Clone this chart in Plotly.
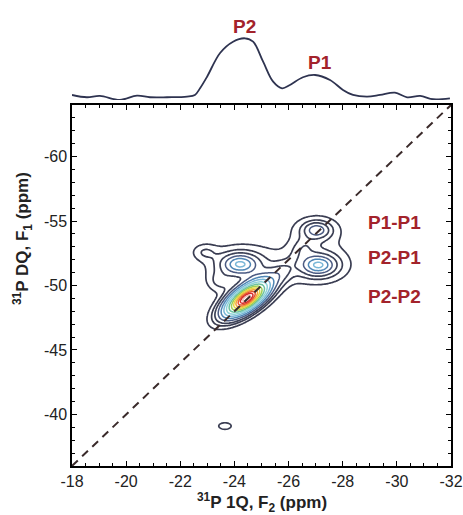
import numpy as np
import plotly.graph_objects as go

# ---------------- data ----------------
# 1D projection (F2 ppm, intensity in arbitrary units)
proj_f2 = [-18.0, -18.55, -19.03, -19.77, -20.40, -20.88, -21.51, -22.25, -22.54, -22.73,
           -22.99, -23.47, -23.95, -24.39, -24.69, -25.06, -25.43, -25.76, -26.05, -26.53,
           -26.98, -27.53, -28.01, -28.38, -28.90, -29.38, -29.93, -30.38, -30.86, -31.34, -31.96]
proj_int = [2, -0.3, 1, -3, 1.3, -0.3, -0.3, 0.3, 2, 8.7,
            20.3, 44, 55.3, 58.7, 55.3, 35.3, 15.3, 8.7, 12, 19.7,
            22, 17, 7, 2, 0.3, 2, 4.3, -0.3, 1, -2.3, -1.3]

# 2D peaks: F2 (ppm), F1 (ppm), widths (ppm), correlation, relative amplitude, tail weight
peak_names = ["P2-P2", "P2-P1", "P1-P2", "P1-P1", "bridge1", "bridge2", "tail", "bridge3", "lone"]
peak_f2  = [-24.45, -24.21, -27.10, -27.04, -25.75, -26.55, -22.90, -23.45, -23.65]
peak_f1  = [-49.00, -51.65, -51.59, -54.30, -51.00, -52.90, -52.60, -50.30, -39.10]
peak_sx  = [0.55, 0.68, 0.64, 0.55, 0.32, 0.30, 0.32, 0.32, 0.27]
peak_sy  = [0.91, 0.82, 0.80, 0.72, 0.60, 0.55, 0.45, 0.55, 0.30]
peak_rho = [0.67, 0.0, 0.0, 0.0, 0.3, 0.2, 0.0, 0.0, 0.0]
peak_amp = [1.00, 0.30, 0.30, 0.19, 0.05, 0.05, 0.05, 0.05, 0.05]
peak_lor = [0.25, 1.0, 1.0, 1.0, 0.0, 0.0, 0.0, 0.0, 0.0]

contour_levels = [0.035, 0.065, 0.10, 0.15, 0.21, 0.28, 0.36, 0.45, 0.54, 0.63, 0.72, 0.81, 0.89, 0.96]
contour_colors = ["#3a3d52", "#3a3d52", "#3d4258", "#4a5a82", "#4f86b5", "#7ab8d8", "#8fd3d8",
                  "#6cc2a0", "#9dcf55", "#e8d640", "#f3a33a", "#e8552f", "#d62b2b", "#f2b8b0"]

diag_f2 = [-18, -32]
diag_f1 = [-36, -64]

tick_x = [-18, -20, -22, -24, -26, -28, -30, -32]
tick_y = [-40, -45, -50, -55, -60]

# ---------------- build intensity grid ----------------
xs = np.linspace(-18, -32, 281)
ys = np.linspace(-36, -64, 281)
X, Y = np.meshgrid(xs, ys)
Z = np.zeros_like(X)
for cx, cy, sx, sy, r, a, lw in zip(peak_f2, peak_f1, peak_sx, peak_sy, peak_rho, peak_amp, peak_lor):
    dx = (X - cx) / sx
    dy = (Y - cy) / sy
    q = (dx * dx - 2 * r * dx * dy + dy * dy) / (1 - r * r)
    Z += a * ((1 - lw) * np.exp(-0.5 * q) + lw / (1 + q) ** 1.5)

fig = go.Figure()

for i, (lv, col) in enumerate(zip(contour_levels, contour_colors)):
    fig.add_trace(go.Contour(
        x=xs, y=ys, z=Z, autocontour=False,
        contours=dict(start=lv, end=lv, size=1, coloring="lines"),
        colorscale=[[0, col], [1, col]], showscale=False,
        line=dict(width=1.7 if i < 3 else 1.5, smoothing=1),
        hoverinfo="skip"))

fig.add_trace(go.Scatter(x=diag_f2, y=diag_f1, mode="lines",
                         line=dict(color="#3a2a2a", width=2, dash="8px,6px"),
                         hoverinfo="skip", showlegend=False))

fig.add_trace(go.Scatter(x=proj_f2, y=proj_int, mode="lines", xaxis="x", yaxis="y2",
                         line=dict(color="#2e3350", width=1.8, shape="spline", smoothing=1),
                         hoverinfo="skip", showlegend=False))

label_font = dict(family="Liberation Sans, Arial, sans-serif", size=19, color="#a3232b")
tick_font = dict(family="Liberation Sans, Arial, sans-serif", size=16, color="#222222")
title_font = dict(family="Liberation Sans, Arial, sans-serif", size=17, color="#222222")

common = dict(showarrow=False, xanchor="center", yanchor="middle")
annots = [
    dict(x=-24.39, y=0.9955, xref="x", yref="paper", text="<b>P2</b>", font=label_font, **common),
    dict(x=-27.16, y=0.916, xref="x", yref="paper", text="<b>P1</b>", font=label_font, **common),
    dict(x=-29.93, y=-54.85, xref="x", yref="y", text="<b>P1-P1</b>", font=label_font, **common),
    dict(x=-29.93, y=-52.21, xref="x", yref="y", text="<b>P2-P1</b>", font=label_font, **common),
    dict(x=-29.93, y=-49.11, xref="x", yref="y", text="<b>P2-P2</b>", font=label_font, **common),
    dict(x=0.5, y=-0.083, xref="paper", yref="paper",
         text="<b><sup>31</sup>P 1Q, F<sub>2</sub> (ppm)</b>", font=title_font, **common),
    dict(x=-0.129, y=0.515, xref="paper", yref="paper", textangle=-90,
         text="<b><sup>31</sup>P DQ, F<sub>1</sub> (ppm)</b>", font=title_font, **common),
]

fig.update_layout(
    width=463, height=515,
    margin=dict(l=72, r=12, t=25, b=49, autoexpand=False),
    paper_bgcolor="white", plot_bgcolor="white",
    showlegend=False,
    annotations=annots,
    xaxis=dict(range=[-18, -32], tickvals=tick_x, ticktext=[str(v) for v in tick_x],
               ticks="inside", ticklen=5, tickwidth=1.2, tickcolor="black",
               minor=dict(dtick=0.5, tick0=-18, ticks="inside", ticklen=3, tickcolor="black"),
               showline=True, linecolor="black", linewidth=1.5, mirror="ticks",
               showgrid=False, zeroline=False, tickfont=tick_font, anchor="y", automargin=False),
    yaxis=dict(range=[-36, -64], domain=[0, 0.8186], tickvals=tick_y, ticktext=[str(v) for v in tick_y],
               ticks="inside", ticklen=5, tickwidth=1.2, tickcolor="black",
               minor=dict(dtick=1, tick0=-36, ticks="inside", ticklen=3, tickcolor="black"),
               showline=True, linecolor="black", linewidth=1.5, mirror="ticks",
               showgrid=False, zeroline=False, tickfont=tick_font, anchor="x", automargin=False),
    yaxis2=dict(domain=[0.83, 1.0], range=[-3, 72], visible=False, anchor="x"),
)

fig.write_html("out.html")
